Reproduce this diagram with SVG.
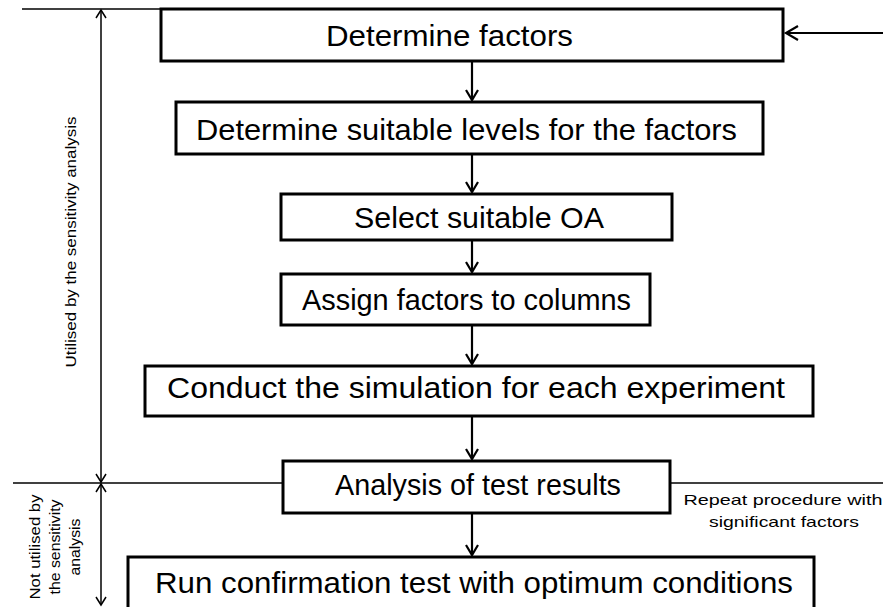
<svg xmlns="http://www.w3.org/2000/svg" width="883" height="607" viewBox="0 0 883 607">
<style>
.box{fill:#fff;stroke:#000;stroke-width:3}
.t{font-family:"Liberation Sans",Arial,sans-serif;font-size:29px;fill:#000}
.s{font-family:"Liberation Sans",Arial,sans-serif;font-size:15px;fill:#000}
.c{fill:none;stroke:#000;stroke-width:2.2}
.thin{fill:none;stroke:#000;stroke-width:1.5}
</style>
<defs>
<marker id="ah" markerUnits="userSpaceOnUse" markerWidth="16" markerHeight="18" viewBox="-13 -9 16 18" refX="0" refY="0" orient="auto">
<path d="M-10,-6 L0,0 L-10,6" fill="none" stroke="#000" stroke-width="2.2"/>
</marker>
<marker id="ahs" markerUnits="userSpaceOnUse" markerWidth="14" markerHeight="14" viewBox="-11 -7 14 14" refX="0" refY="0" orient="auto">
<path d="M-8,-5 L0,0 L-8,5" fill="none" stroke="#000" stroke-width="1.5"/>
</marker>
<marker id="ahr" markerUnits="userSpaceOnUse" markerWidth="20" markerHeight="20" viewBox="-16 -10 20 20" refX="0" refY="0" orient="auto">
<path d="M-12,-7 L0,0 L-12,7" fill="none" stroke="#000" stroke-width="2.2"/>
</marker>
</defs>
<g id="connectors">
<line class="c" x1="472" y1="62" x2="472" y2="100" marker-end="url(#ah)"/>
<line class="c" x1="472" y1="155" x2="472" y2="192" marker-end="url(#ah)"/>
<line class="c" x1="472" y1="241" x2="472" y2="272" marker-end="url(#ah)"/>
<line class="c" x1="472" y1="326" x2="472" y2="364" marker-end="url(#ah)"/>
<line class="c" x1="472" y1="417" x2="472" y2="459" marker-end="url(#ah)"/>
<line class="c" x1="472" y1="514" x2="472" y2="555" marker-end="url(#ah)"/>
<line class="c" x1="883" y1="33" x2="786" y2="33" marker-end="url(#ahr)"/>
<line class="thin" x1="22" y1="9" x2="161" y2="9"/>
<line class="thin" x1="13" y1="483" x2="283" y2="483"/>
<line class="thin" x1="670" y1="483" x2="883" y2="483"/>
<line class="thin" x1="101" y1="242" x2="101" y2="10" marker-end="url(#ahs)"/>
<line class="thin" x1="101" y1="242" x2="101" y2="482" marker-end="url(#ahs)"/>
<line class="thin" x1="101" y1="545" x2="101" y2="484" marker-end="url(#ahs)"/>
<line class="thin" x1="101" y1="545" x2="101" y2="605" marker-end="url(#ahs)"/>
</g>
<g id="n1"><rect class="box" x="161" y="9" width="622" height="52"/><text class="t" x="326" y="46" textLength="247" lengthAdjust="spacingAndGlyphs">Determine factors</text></g>
<g id="n2"><rect class="box" x="176" y="102" width="587" height="52"/><text class="t" x="196" y="140" textLength="541" lengthAdjust="spacingAndGlyphs">Determine suitable levels for the factors</text></g>
<g id="n3"><rect class="box" x="281" y="194" width="391" height="46"/><text class="t" x="354" y="228" textLength="250" lengthAdjust="spacingAndGlyphs">Select suitable OA</text></g>
<g id="n4"><rect class="box" x="281" y="274" width="369" height="51"/><text class="t" x="302" y="310" textLength="329" lengthAdjust="spacingAndGlyphs">Assign factors to columns</text></g>
<g id="n5"><rect class="box" x="145" y="366" width="668" height="50"/><text class="t" x="167" y="398" textLength="618" lengthAdjust="spacingAndGlyphs">Conduct the simulation for  each experiment</text></g>
<g id="n6"><rect class="box" x="283" y="461" width="387" height="52"/><text class="t" x="335" y="495" textLength="286" lengthAdjust="spacingAndGlyphs">Analysis of test results</text></g>
<g id="n7"><rect class="box" x="128" y="557" width="686" height="60"/><text class="t" x="155" y="593" textLength="638" lengthAdjust="spacingAndGlyphs">Run confirmation test with optimum conditions</text></g>
<g id="labels">
<text class="s" transform="translate(76,242) rotate(-90)" text-anchor="middle" font-size="16" textLength="251" lengthAdjust="spacingAndGlyphs">Utilised by the sensitivity analysis</text>
<text class="s" transform="translate(40,547) rotate(-90)" text-anchor="middle" textLength="105" lengthAdjust="spacingAndGlyphs">Not utilised by</text>
<text class="s" transform="translate(60,547) rotate(-90)" text-anchor="middle" textLength="95" lengthAdjust="spacingAndGlyphs">the sensitivity</text>
<text class="s" transform="translate(80,547) rotate(-90)" text-anchor="middle" textLength="57" lengthAdjust="spacingAndGlyphs">analysis</text>
<text class="s" x="783" y="505" text-anchor="middle" textLength="199" lengthAdjust="spacingAndGlyphs">Repeat procedure with</text>
<text class="s" x="784" y="527" text-anchor="middle" textLength="150" lengthAdjust="spacingAndGlyphs">significant factors</text>
</g>
</svg>
